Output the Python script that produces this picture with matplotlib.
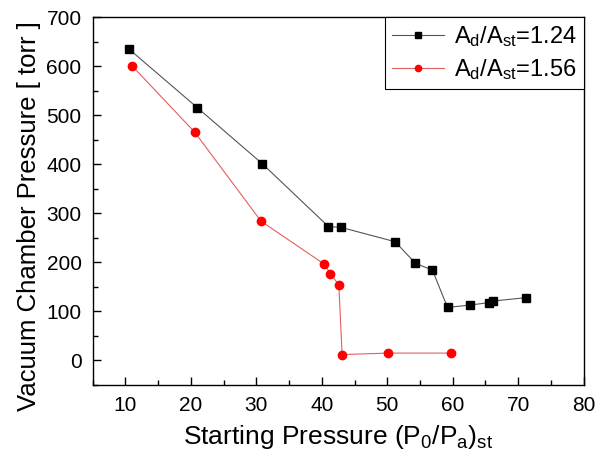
import matplotlib
matplotlib.use("Agg")
import matplotlib.pyplot as plt
from matplotlib.ticker import MultipleLocator

plt.rcParams['font.family'] = ['Liberation Sans', 'DejaVu Sans']
plt.rcParams['mathtext.fontset'] = 'custom'
plt.rcParams['mathtext.rm'] = 'Liberation Sans'

x_124 = [10.6, 21.0, 30.9, 41.0, 43.0, 51.2, 54.3, 56.9, 59.2, 62.7, 65.6, 66.1, 71.2]
y_124 = [634, 515, 401, 273, 271, 242, 198, 184, 108, 113, 118, 121, 128]

x_156 = [11.05, 20.6, 30.7, 40.4, 41.3, 42.6, 43.1, 50.1, 59.7]
y_156 = [600, 465, 284, 196, 177, 154, 12, 15, 15]

label_124 = r'$\mathregular{A_d/A_{st}}$=1.24'
label_156 = r'$\mathregular{A_d/A_{st}}$=1.56'

fig = plt.figure(figsize=(6.13, 4.62), dpi=100)
ax = fig.add_axes([0.1512, 0.1667, 0.8010, 0.7965])

ax.plot(x_124, y_124, color='#555555', lw=0.8, marker='s', markersize=5.5,
        markerfacecolor='black', markeredgecolor='black', label=label_124)
ax.plot(x_156, y_156, color='#e06060', lw=0.8, marker='o', markersize=6,
        markerfacecolor='red', markeredgecolor='red', label=label_156)

ax.set_xlim(5, 80)
ax.set_ylim(-50, 700)
ax.xaxis.set_major_locator(MultipleLocator(10))
ax.xaxis.set_minor_locator(MultipleLocator(5))
ax.yaxis.set_major_locator(MultipleLocator(100))
ax.yaxis.set_minor_locator(MultipleLocator(50))
ax.tick_params(which='both', direction='in', top=False, right=False, labelsize=15, width=1)
ax.tick_params(which='major', length=6, pad=8)
ax.tick_params(which='minor', length=3.5)
for s in ax.spines.values():
    s.set_linewidth(1.0)

ax.set_xlabel(r'Starting Pressure (P$\mathregular{_0}$/P$\mathregular{_a}$)$\mathregular{_{st}}$', fontsize=19, labelpad=6)
ax.set_ylabel('Vacuum Chamber Pressure [ torr ]', fontsize=18.5)
ax.yaxis.set_label_coords(-0.105, 0.46)

leg = ax.legend(loc='upper right', borderaxespad=0, fancybox=False, fontsize=17,
                handlelength=2.2, handletextpad=0.4, markerscale=0.75, framealpha=1,
                edgecolor='black', borderpad=0.3, labelspacing=0.35)
leg.get_frame().set_linewidth(0.8)

fig.savefig('out.png', dpi=100)
